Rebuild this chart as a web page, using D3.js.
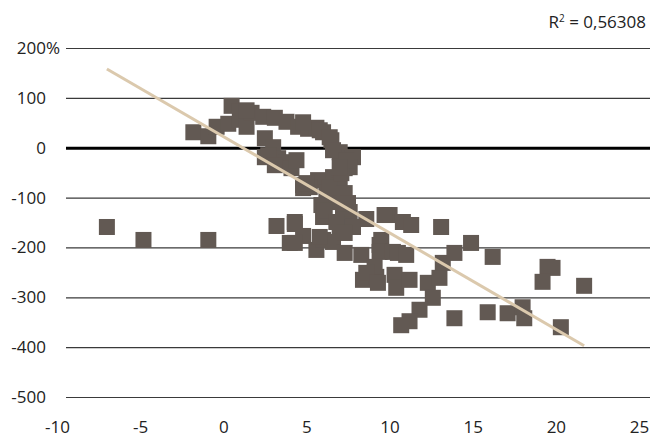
<!DOCTYPE html>
<html>
<head>
<meta charset="utf-8">
<script src="https://cdn.jsdelivr.net/npm/d3@7"></script>
<style>
  body { margin: 0; background: #fff; }
  text { font-family: 'Open Sans', sans-serif; fill: #222; }
</style>
</head>
<body>
<div id="chart"></div>
<script>
// scatter values (x, y in %)
const x_values = [
    -7.0, -4.8, -0.9, -1.8, -0.9, -0.4, 0.3, 1.0, 1.4, 0.5,
    1.0, 1.7, 2.4, 3.1, 3.8, 4.5, 5.1, 5.6, 6.0, 6.5,
    7.0, 7.8, 7.2, 7.3, 2.5, 3.0, 2.5, 3.3, 3.8, 4.1,
    4.8, 5.7, 6.6, 7.0, 4.8, 6.2, 5.9, 6.8, 7.2, 6.0,
    7.6, 7.0, 6.4, 7.3, 6.1, 7.5, 6.8, 3.2, 4.3, 4.0,
    4.8, 5.6, 6.0, 6.6, 7.3, 8.3, 9.4, 9.5, 9.4, 10.2,
    10.5, 11.0, 8.6, 10.0, 10.8, 11.3, 13.1, 8.4, 9.2, 9.1,
    10.3, 10.4, 11.2, 12.3, 13.0, 13.2, 12.6, 11.8, 11.2, 10.7,
    8.6, 13.9, 14.9, 16.2, 13.9, 15.9, 17.1, 18.0, 18.1, 20.3,
    19.5, 19.8, 19.2, 21.7, 7.5, 9.3, 7.8, 7.3, 5.2, 7.6,
    7.1, 9.7, 4.3, 4.3, 5.8, 1.4, 4.8, 5.8, 6.4, 6.6,
    7.4, 7.0, 2.7, 3.1, 4.4, 5.0
];
const y_values = [
    -159, -185, -185, 31, 23, 42, 48, 56, 42, 84,
    72, 70, 62, 60, 52, 42, 38, 40, 31, 15,
    -9, -19, -29, -41, 19, 1, -19, -21, -29, -41,
    -75, -65, -59, -75, -81, -89, -115, -109, -141, -139,
    -129, -169, -79, -91, -125, -155, -149, -157, -153, -191,
    -177, -205, -185, -189, -211, -215, -195, -185, -209, -209,
    -211, -215, -143, -135, -149, -155, -159, -265, -259, -239,
    -255, -281, -265, -271, -261, -231, -301, -325, -348, -356,
    -251, -211, -191, -219, -342, -330, -332, -320, -342, -360,
    -239, -241, -269, -277, -111, -271, -159, -171, -79, -39,
    -51, -135, -149, -191, -179, 75, 51, 35, 21, -5,
    -25, -39, -15, -35, -25, -71
];

const x_ticks = [-10, -5, 0, 5, 10, 15, 20, 25];
const y_ticks = [200, 100, 0, -100, -200, -300, -400, -500];

// linear trend
const trend_slope = -19.34;
const trend_intercept = 22.6;
const r_squared_label = '0,56308';

const chart_width = 657;
const chart_height = 437;
const plot_left = 66;
const plot_right = 650;

const data = x_values.map((x, i) => [x, y_values[i]]);

const svg = d3.select('#chart')
    .append('svg')
    .attr('width', chart_width)
    .attr('height', chart_height);

// Scales
const x_scale = d3.scaleLinear()
    .domain([-10, 25])
    .range([57, 639]);

const y_scale = d3.scaleLinear()
    .domain([-500, 200])
    .range([397, 48]);

// Y axis with gridlines
const y_axis = d3.axisLeft(y_scale)
    .tickValues(y_ticks)
    .tickSizeInner(-(plot_right - plot_left))
    .tickSizeOuter(0)
    .tickPadding(20)
    .tickFormat(d => d);

const y_g = svg.append('g')
    .attr('transform', `translate(${plot_left}, 0)`)
    .call(y_axis);
y_g.select('.domain').remove();
y_g.selectAll('line')
    .attr('stroke', '#3a3a3a')
    .attr('stroke-width', 1.2);
y_g.selectAll('text')
    .style('font-size', '17px')
    .attr('fill', '#222');
y_g.selectAll('.tick')
    .filter(d => d === 0)
    .select('line')
    .attr('stroke', '#000')
    .attr('stroke-width', 3);
y_g.selectAll('.tick')
    .filter(d => d === 200)
    .append('text')
    .attr('x', -20)
    .attr('dy', '0.32em')
    .attr('text-anchor', 'start')
    .attr('fill', '#222')
    .style('font-size', '17px')
    .text('%');

// X axis labels
const x_axis = d3.axisBottom(x_scale)
    .tickValues(x_ticks)
    .tickSize(0)
    .tickFormat(d => d);

const x_g = svg.append('g')
    .attr('transform', `translate(0, ${y_scale(-500)})`)
    .call(x_axis);
x_g.select('.domain').remove();
x_g.selectAll('text')
    .attr('y', 36)
    .attr('dy', null)
    .attr('fill', '#222')
    .style('font-size', '17px');

// Squares
svg.append('g')
    .selectAll('rect')
    .data(data)
    .enter()
    .append('rect')
    .attr('x', d => x_scale(d[0]) - 8)
    .attr('y', d => y_scale(d[1]) - 8)
    .attr('width', 16)
    .attr('height', 16)
    .attr('fill', '#625953');

// Trendline
const x_ext = d3.extent(x_values);
svg.append('line')
    .attr('x1', x_scale(x_ext[0]))
    .attr('y1', y_scale(trend_intercept + trend_slope * x_ext[0]))
    .attr('x2', x_scale(x_ext[1]))
    .attr('y2', y_scale(trend_intercept + trend_slope * x_ext[1]))
    .attr('stroke', '#dbc9ad')
    .attr('stroke-width', 3);

// R squared label
const r_text = svg.append('text')
    .attr('x', 646)
    .attr('y', 28)
    .attr('text-anchor', 'end')
    .style('font-size', '17px');
r_text.append('tspan').text('R');
r_text.append('tspan').attr('dy', -6).style('font-size', '10px').text('2');
r_text.append('tspan').attr('dy', 6).text(' = ' + r_squared_label);
</script>
</body>
</html>
